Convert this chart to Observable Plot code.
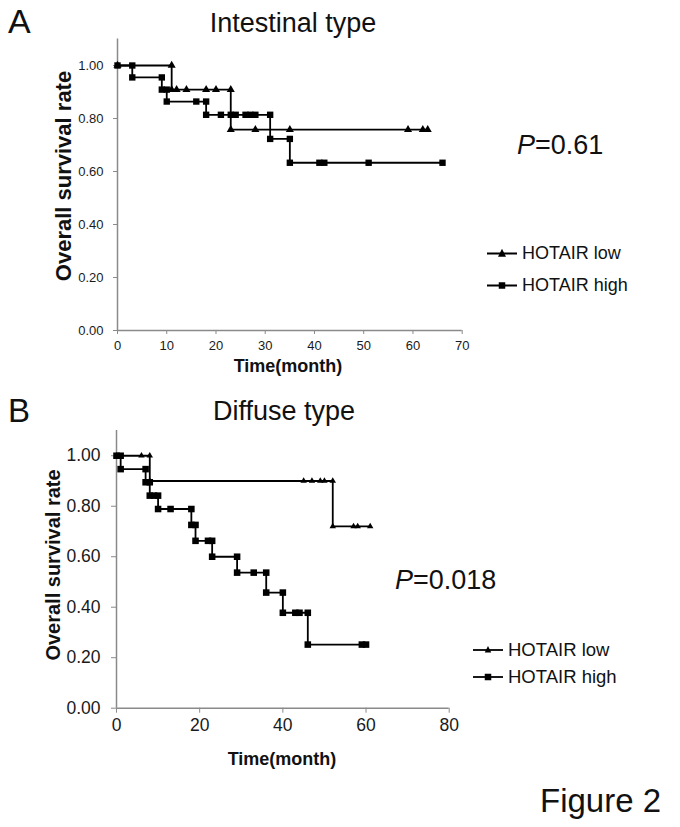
<!DOCTYPE html>
<html>
<head>
<meta charset="utf-8">
<script src="https://cdn.jsdelivr.net/npm/d3@7"></script>
<script src="https://cdn.jsdelivr.net/npm/@observablehq/plot@0.6"></script>
<style>
  html, body { margin: 0; padding: 0; background: #fff; }
  #fig { position: relative; width: 680px; height: 827px; background: #fff; overflow: hidden;
         font-family: "Liberation Sans", Arial, sans-serif; color: #111; }
  .t { position: absolute; white-space: nowrap; line-height: 1; }
  .c { transform: translate(-50%, -50%); }
  .l { transform: translate(0, -50%); }
  .r { transform: translate(-50%, -50%) rotate(-90deg); font-weight: bold; }
  .panel { position: absolute; left: 0; }
  .leg { position: absolute; display: flex; align-items: center; transform: translate(0,-50%); white-space: nowrap; }
</style>
</head>
<body>
<div id="fig"></div>
<script>
// ---------- Data ----------
// Panel A: Intestinal type — vertices of Kaplan–Meier step curves (Excel-style series)
const lowA_time = [0, 11, 11, 12, 14, 18, 20, 23, 23, 28, 35, 59, 62, 63];
const lowA_surv = [1, 1, 0.909, 0.909, 0.909, 0.909, 0.909, 0.909, 0.758, 0.758, 0.758, 0.758, 0.758, 0.758];
const highA_time = [0, 3, 3, 9, 9, 10, 10, 16, 18, 18, 21, 23, 24, 26, 27, 28, 31, 31, 35, 35, 41, 42, 51, 66];
const highA_surv = [1, 1, 0.955, 0.955, 0.909, 0.909, 0.864, 0.864, 0.864, 0.814, 0.814, 0.814, 0.814, 0.814, 0.814, 0.814, 0.814, 0.723, 0.723, 0.633, 0.633, 0.633, 0.633, 0.633];

// Panel B: Diffuse type
const lowB_time = [0, 6, 8, 8, 45, 47, 49, 50, 52, 52, 57, 58, 61];
const lowB_surv = [1, 1, 1, 0.9, 0.9, 0.9, 0.9, 0.9, 0.9, 0.72, 0.72, 0.72, 0.72];
const highB_time = [0, 1, 1, 7, 7, 8, 8, 9, 10, 10, 13, 18, 18, 19, 19, 22, 23, 23, 29, 29, 33, 36, 36, 40, 40, 43, 44, 46, 46, 59, 60];
const highB_surv = [1, 1, 0.947, 0.947, 0.895, 0.895, 0.842, 0.842, 0.842, 0.789, 0.789, 0.789, 0.726, 0.726, 0.663, 0.663, 0.663, 0.600, 0.600, 0.537, 0.537, 0.537, 0.458, 0.458, 0.378, 0.378, 0.378, 0.378, 0.252, 0.252, 0.252];

const xTicksA = [0, 10, 20, 30, 40, 50, 60, 70];
const xTicksB = [0, 20, 40, 60, 80];
const yTicks = [0, 0.2, 0.4, 0.6, 0.8, 1.0];

const seriesNames = ["HOTAIR low", "HOTAIR high"];
const titles = ["Intestinal type", "Diffuse type"];
const pValues = ["0.61", "0.018"];
const xLabel = "Time(month)";
const yLabel = "Overall survival rate";

// ---------- Helpers ----------
const fig = document.getElementById("fig");
const zip = (t, s) => t.map((d, i) => ({t: d, s: s[i]}));
function text(str, x, y, cls, style) {
  const d = document.createElement("div");
  d.className = "t " + cls;
  d.style.left = x + "px"; d.style.top = y + "px";
  Object.assign(d.style, style || {});
  d.innerHTML = str;
  fig.appendChild(d);
  return d;
}
function legendItem(x, y, label, symbol, fontSize, msize) {
  const d = document.createElement("div");
  d.className = "leg";
  d.style.left = x + "px"; d.style.top = y + "px";
  d.style.fontSize = fontSize + "px";
  const sym = symbol === "triangle"
    ? `<polygon points="15,${7 - msize * 0.6} ${15 - msize / 2},${7 + msize * 0.4} ${15 + msize / 2},${7 + msize * 0.4}" fill="#000"/>`
    : `<rect x="${15 - msize / 2}" y="${7 - msize / 2}" width="${msize}" height="${msize}" fill="#000"/>`;
  d.innerHTML = `<svg width="30" height="14" style="display:block;margin-right:5px"><line x1="0" x2="30" y1="7" y2="7" stroke="#000" stroke-width="1.8"/>${sym}</svg><span>${label}</span>`;
  fig.appendChild(d);
}

function panel({top, height, mt, mb, ml, mr, xmax, xticks, low, high, tickFont, tickSize, xPad, yPad, triR, sqR}) {
  const chart = Plot.plot({
    width: 680, height,
    marginTop: mt, marginBottom: mb, marginLeft: ml, marginRight: mr,
    x: {domain: [0, xmax]},
    y: {domain: [0, 1.1]},
    style: {fontFamily: '"Liberation Sans", Arial, sans-serif', fontSize: tickFont + "px", background: "transparent", overflow: "visible"},
    marks: [
      Plot.axisX({ticks: xticks, tickSize, tickPadding: xPad, stroke: "#8a8a8a", fill: "#1a1a1a", label: null, tickFormat: d => String(d)}),
      Plot.axisY({ticks: yTicks, tickSize, tickPadding: yPad, stroke: "#8a8a8a", fill: "#1a1a1a", label: null, tickFormat: d => d.toFixed(2)}),
      Plot.ruleY([0], {x1: 0, x2: xmax, stroke: "#8a8a8a", strokeWidth: 1.5}),
      Plot.ruleX([0], {y1: 0, y2: 1.1, stroke: "#8a8a8a", strokeWidth: 1.5}),
      Plot.line(low, {x: "t", y: "s", stroke: "#000", strokeWidth: 1.8}),
      Plot.dot(low, {x: "t", y: "s", symbol: "triangle", r: triR, fill: "#000", stroke: null}),
      Plot.line(high, {x: "t", y: "s", stroke: "#000", strokeWidth: 1.8}),
      Plot.dot(high, {x: "t", y: "s", symbol: "square", r: sqR, fill: "#000", stroke: null})
    ]
  });
  const wrap = document.createElement("div");
  wrap.className = "panel";
  wrap.style.top = top + "px";
  wrap.appendChild(chart);
  fig.appendChild(wrap);
}

// ---------- Panel A ----------
panel({top: 0, height: 360, mt: 38.5, mb: 30, ml: 117, mr: 218.3, xmax: 70, xticks: xTicksA,
       low: zip(lowA_time, lowA_surv), high: zip(highA_time, highA_surv),
       tickFont: 13, tickSize: 4, xPad: 6, yPad: 10, triR: 3.0, sqR: 3.6});
text("A", 8, 20.5, "l", {fontSize: "34px"});
text(titles[0], 293, 22.5, "c", {fontSize: "27px"});
text(yLabel, 64, 176, "r", {fontSize: "22px"});
text(xLabel, 288, 366, "c", {fontSize: "18px", fontWeight: "bold"});
text(`<i>P</i>=${pValues[0]}`, 517, 145, "l", {fontSize: "27px"});
legendItem(487, 253, seriesNames[0], "triangle", 18, 8);
legendItem(487, 285, seriesNames[1], "square", 18, 6.5);

// ---------- Panel B ----------
panel({top: 370, height: 400, mt: 60, mb: 62.3, ml: 116, mr: 231.3, xmax: 80, xticks: xTicksB,
       low: zip(lowB_time, lowB_surv), high: zip(highB_time, highB_surv),
       tickFont: 17.5, tickSize: 5, xPad: 5, yPad: 11, triR: 2.4, sqR: 3.7});
text("B", 8, 410, "l", {fontSize: "33px"});
text(titles[1], 284, 411, "c", {fontSize: "27px"});
text(yLabel, 53, 565, "r", {fontSize: "20px"});
text(xLabel, 282, 759, "c", {fontSize: "18px", fontWeight: "bold"});
text(`<i>P</i>=${pValues[1]}`, 395, 580, "l", {fontSize: "27px"});
legendItem(473, 650, seriesNames[0], "triangle", 18.5, 6.5);
legendItem(473, 677, seriesNames[1], "square", 18.5, 6.5);

text("Figure 2", 540, 800, "l", {fontSize: "33px"});
</script>
</body>
</html>
